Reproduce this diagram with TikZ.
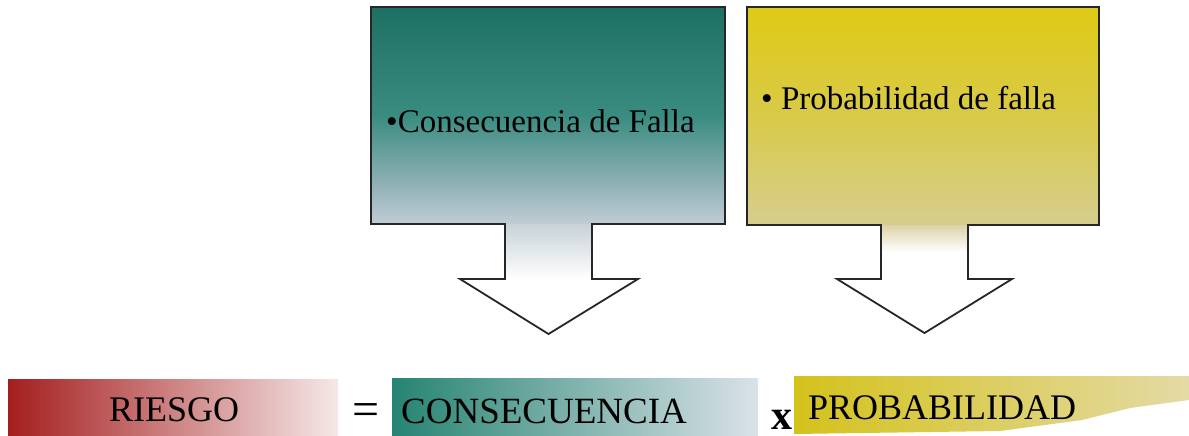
\documentclass[tikz,border=0pt]{standalone}
\usepackage{fontspec}
\setmainfont{Liberation Serif}
\definecolor{gT}{RGB}{28,112,98}
\definecolor{gM}{RGB}{58,140,128}
\definecolor{gC}{RGB}{150,180,186}
\definecolor{gB}{RGB}{192,205,212}
\definecolor{gS}{RGB}{200,210,216}
\definecolor{yT}{RGB}{222,202,22}
\definecolor{yM}{RGB}{217,202,72}
\definecolor{yB}{RGB}{214,205,142}
\definecolor{yS}{RGB}{220,210,168}
\definecolor{rL}{RGB}{165,30,30}
\definecolor{rM}{RGB}{200,96,96}
\definecolor{rR}{RGB}{246,232,232}
\definecolor{bgL}{RGB}{38,132,114}
\definecolor{bgM}{RGB}{84,154,148}
\definecolor{bgR}{RGB}{218,226,232}
\definecolor{byL}{RGB}{212,194,28}
\definecolor{byM}{RGB}{218,204,78}
\definecolor{byR}{RGB}{228,218,166}
\pgfdeclareverticalshading{greenbox}{100bp}{color(0bp)=(gB); color(25bp)=(gB); color(33bp)=(gC); color(50bp)=(gM); color(75bp)=(gT); color(100bp)=(gT)}
\pgfdeclareverticalshading{yellowbox}{100bp}{color(0bp)=(yB); color(25bp)=(yB); color(50bp)=(yM); color(75bp)=(yT); color(100bp)=(yT)}
\begin{document}
\begin{tikzpicture}[x=1pt,y=-1pt,
  outline/.style={draw=black!85, line width=1.8pt, line join=miter},
  toptext/.style={anchor=base west, inner sep=0pt, text=black, font=\fontsize{33}{36}\selectfont},
  eqtext/.style={anchor=base west, inner sep=0pt, text=black, font=\fontsize{36}{40}\selectfont}]
\useasboundingbox (0,0) rectangle (1189,436);
\fill[white] (0,0) rectangle (1189,436);

% ---- green box with arrow
\shade[shading=greenbox] (371,7) rectangle (725,224);
\shade[top color=gS, bottom color=white] (505,224) rectangle (592,279);
\draw[outline] (371,7) -- (725,7) -- (725,224) -- (592,224) -- (592,279) -- (638,279)
  -- (548.5,334) -- (460,279) -- (505,279) -- (505,224) -- (371,224) -- cycle;
\node[toptext] (consTxt) at (386,132) {•Consecuencia de Falla};

% ---- yellow box with arrow
\shade[shading=yellowbox] (747,7) rectangle (1099,225);
\shade[top color=yS, bottom color=white] (881,225) rectangle (968,252);
\draw[outline] (747,7) -- (1099,7) -- (1099,225) -- (968,225) -- (968,279) -- (1012,279)
  -- (924.5,333) -- (837,279) -- (881,279) -- (881,225) -- (747,225) -- cycle;
\node[toptext] (probTxt) at (761,110) {• Probabilidad de falla};

% ---- bottom equation bands
\shade[left color=rL, middle color=rM, right color=rR] (8,379) rectangle (338,436);
\shade[left color=bgL, middle color=bgM, right color=bgR] (392,378) rectangle (758,436);
\shade[left color=byL, middle color=byM, right color=byR]
  (794,376) -- (1189,376) -- (1189,400) -- (1130,408) -- (1082,420) -- (1000,431) -- (794,434) -- cycle;

\node[eqtext] (riesgo) at (109,421) {RIESGO};
\node[anchor=base, inner sep=0pt, font=\fontsize{48}{50}\selectfont] (eq) at (366,425) {=};
\node[eqtext, font=\fontsize{37}{40}\selectfont] (cons) at (401,423) {CONSECUENCIA};
\node[anchor=base west, inner sep=0pt, font=\bfseries\fontsize{42}{44}\selectfont] (times) at (771,429) {x};
\node[eqtext] (prob) at (808,419) {PROBABILIDAD};
\end{tikzpicture}
\end{document}
